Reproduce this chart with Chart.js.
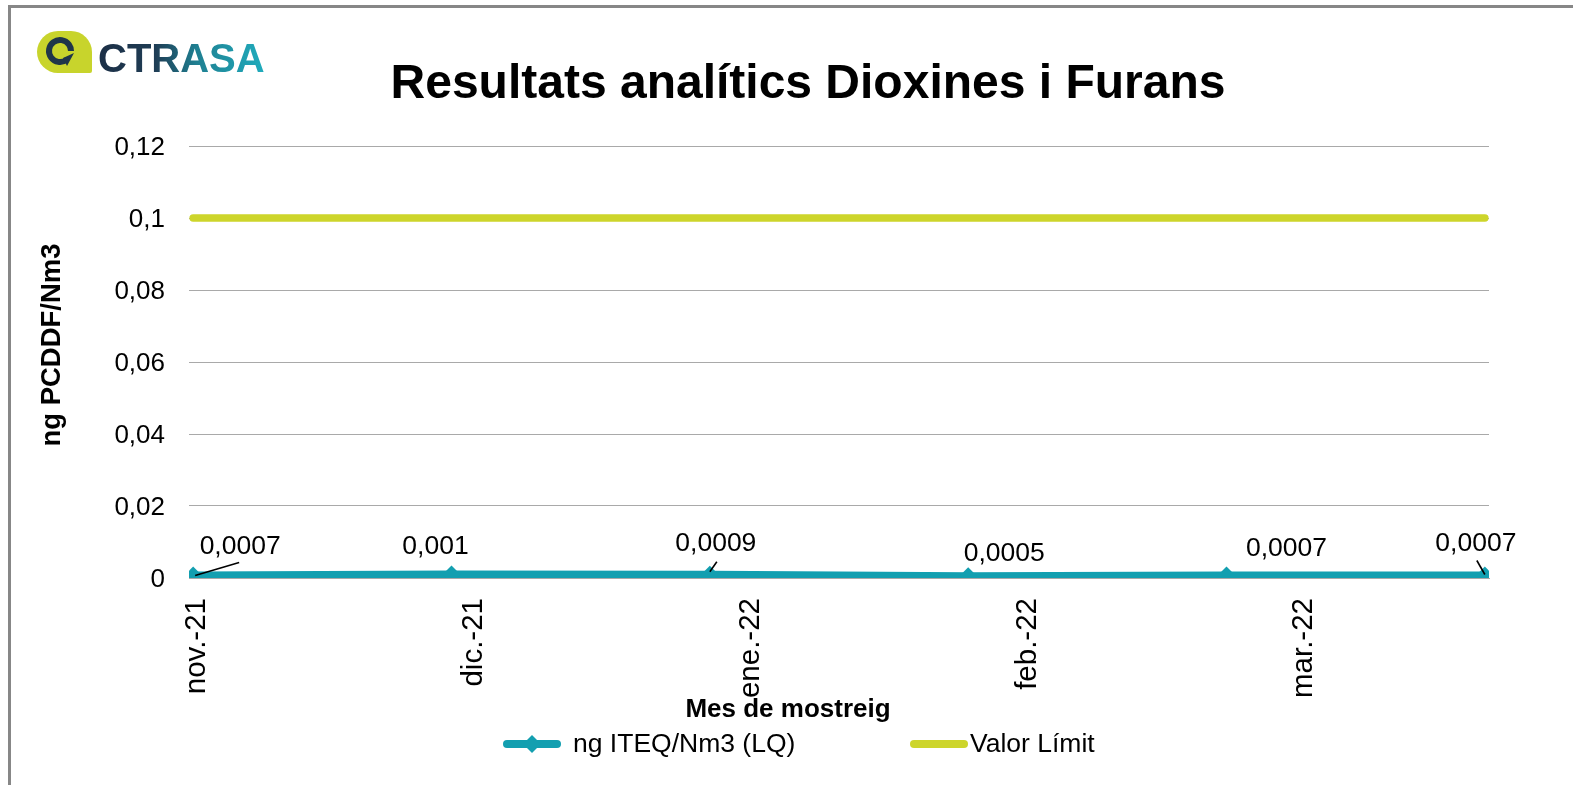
<!DOCTYPE html>
<html><head><meta charset="utf-8">
<script src="https://cdn.jsdelivr.net/npm/chart.js@4.4.1/dist/chart.umd.min.js"></script>
<style>html,body{margin:0;padding:0;background:#fff;} canvas{display:block}</style>
</head><body><canvas id="c" width="1573" height="785"></canvas>
<script>
// ---- data ----
const sampleDays = [0, 28, 56, 84, 112, 140];           // sampling dates, days after 1 Nov 2021
const iteqValues = [0.0007, 0.001, 0.0009, 0.0005, 0.0007, 0.0007];
const limitValues = [0.1, 0.1, 0.1, 0.1, 0.1, 0.1];
const monthTickDays = [0, 30, 60, 90, 120];
const monthLabels = ['nov.-21', 'dic.-21', 'ene.-22', 'feb.-22', 'mar.-22'];
const yTickValues = [0, 0.02, 0.04, 0.06, 0.08, 0.1, 0.12];
const yTickLabels = ['0', '0,02', '0,04', '0,06', '0,08', '0,1', '0,12'];
const seriesNames = ['ng ITEQ/Nm3 (LQ)', 'Valor Límit'];
const chartTitle = 'Resultats analítics Dioxines i Furans';
const yTitle = 'ng PCDDF/Nm3';
const xTitle = 'Mes de mostreig';

// ---- styles ----
const TEAL = '#139fb0', LIME = '#cdd52b', GRID = '#a9a9a9';
const FONT = '"Liberation Sans", Arial, sans-serif';
const labelOffsets = [[47, -31], [-16, -30], [6, -33], [36, -25], [60, -29], [-9, -34]];
const leaders = {0: [[2, 0], [46, -13]], 2: [[0, -3], [7, -13]], 5: [[-8, -15], [0, -1]]};
const fmt = v => String(v).replace('.', ',');

const decor = {
  id: 'decor',
  afterDraw(chart) {
    const ctx = chart.ctx;
    ctx.save();
    // frame
    ctx.fillStyle = '#878787';
    ctx.fillRect(8, 5, 1565, 3);
    ctx.fillRect(8, 5, 3, 780);
    // title
    ctx.fillStyle = '#000';
    ctx.font = 'bold 48px ' + FONT;
    ctx.textAlign = 'center'; ctx.textBaseline = 'alphabetic';
    ctx.fillText(chartTitle, 808, 98);
    // axis titles
    ctx.font = 'bold 26px ' + FONT;
    ctx.textBaseline = 'middle';
    ctx.fillText(xTitle, 788, 710);
    ctx.save();
    ctx.translate(52, 345); ctx.rotate(-Math.PI / 2);
    ctx.font = 'bold 27.5px ' + FONT;
    ctx.fillText(yTitle, 0, 0);
    ctx.restore();
    // data labels
    const meta = chart.getDatasetMeta(0);
    ctx.font = '26.5px ' + FONT;
    meta.data.forEach((pt, i) => {
      const [dx, dy] = labelOffsets[i];
      ctx.fillStyle = '#000';
      ctx.fillText(fmt(iteqValues[i]), pt.x + dx, pt.y + dy + 2);
      if (leaders[i]) {
        const [a, b] = leaders[i];
        ctx.strokeStyle = '#000'; ctx.lineWidth = 1.6;
        ctx.beginPath(); ctx.moveTo(pt.x + a[0], pt.y + a[1]); ctx.lineTo(pt.x + b[0], pt.y + b[1]); ctx.stroke();
      }
    });
    // legend
    const ly = 744;
    ctx.lineCap = 'round'; ctx.lineWidth = 8;
    ctx.strokeStyle = TEAL;
    ctx.beginPath(); ctx.moveTo(507, ly); ctx.lineTo(557, ly); ctx.stroke();
    ctx.fillStyle = TEAL;
    ctx.beginPath(); ctx.moveTo(532, ly - 9); ctx.lineTo(541, ly); ctx.lineTo(532, ly + 9); ctx.lineTo(523, ly); ctx.closePath(); ctx.fill();
    ctx.strokeStyle = LIME;
    ctx.beginPath(); ctx.moveTo(914, ly); ctx.lineTo(964, ly); ctx.stroke();
    ctx.fillStyle = '#000'; ctx.textAlign = 'left'; ctx.font = '26.5px ' + FONT;
    ctx.fillText(seriesNames[0], 573, ly + 1);
    ctx.fillText(seriesNames[1], 970, ly + 1);
    // logo
    ctx.fillStyle = '#c8d42c';
    ctx.beginPath(); ctx.roundRect(37, 31, 55, 42, [21, 21, 2, 21]); ctx.fill();
    ctx.strokeStyle = '#1f3549'; ctx.lineWidth = 6; ctx.lineCap = 'butt';
    ctx.beginPath(); ctx.arc(60, 51, 11, 0.3 * Math.PI, 2.0 * Math.PI); ctx.stroke();
    ctx.fillStyle = '#1f3549';
    ctx.beginPath(); ctx.moveTo(74, 53); ctx.lineTo(67, 66); ctx.lineTo(63, 58); ctx.closePath(); ctx.fill();
    const g = ctx.createLinearGradient(98, 0, 262, 0);
    g.addColorStop(0, '#1c2f46'); g.addColorStop(0.35, '#1f3d55'); g.addColorStop(0.6, '#1f7f91'); g.addColorStop(1, '#20aabb');
    ctx.fillStyle = g;
    ctx.font = 'bold 40px ' + FONT; ctx.textBaseline = 'alphabetic';
    ctx.fillText('CTRASA', 98, 72);
    ctx.restore();
  }
};

new Chart(document.getElementById('c'), {
  type: 'line',
  data: {
    datasets: [
      { label: seriesNames[0], data: sampleDays.map((d, i) => ({x: d, y: iteqValues[i]})),
        borderColor: TEAL, backgroundColor: TEAL, borderWidth: 8, pointStyle: 'rectRot',
        pointRadius: 9, pointBorderWidth: 0, pointBackgroundColor: TEAL, order: 0 },
      { label: seriesNames[1], data: sampleDays.map((d, i) => ({x: d, y: limitValues[i]})),
        borderColor: LIME, backgroundColor: LIME, borderWidth: 7.5, borderCapStyle: 'round',
        pointRadius: 0, order: 1 }
    ]
  },
  options: {
    responsive: false, animation: false, events: [],
    layout: {padding: {left: 0, top: 146, right: 84, bottom: 60}},
    plugins: {legend: {display: false}, tooltip: {enabled: false}, title: {display: false}},
    scales: {
      x: {
        type: 'linear', min: -0.45, max: 140.45,
        afterFit(s) { s.height = 147; },
        afterBuildTicks(s) { s.ticks = monthTickDays.map(v => ({value: v})); },
        ticks: {autoSkip: false, minRotation: 90, maxRotation: 90, padding: 20, labelOffset: 4, color: '#000',
          font: {family: FONT, size: 29.5}, callback: (v, i) => monthLabels[i]},
        grid: {display: false, drawTicks: false},
        border: {display: true, color: GRID, width: 1}
      },
      y: {
        min: 0, max: 0.12,
        afterFit(s) { s.width = 189; },
        afterBuildTicks(s) { s.ticks = yTickValues.map(v => ({value: v})); },
        ticks: {padding: 24, labelOffset: 2, color: '#000', font: {family: FONT, size: 26}, callback: (v, i) => yTickLabels[i]},
        grid: {color: GRID, lineWidth: 1, drawTicks: false},
        border: {display: false}
      }
    }
  },
  plugins: [decor]
});
</script>
</body></html>
